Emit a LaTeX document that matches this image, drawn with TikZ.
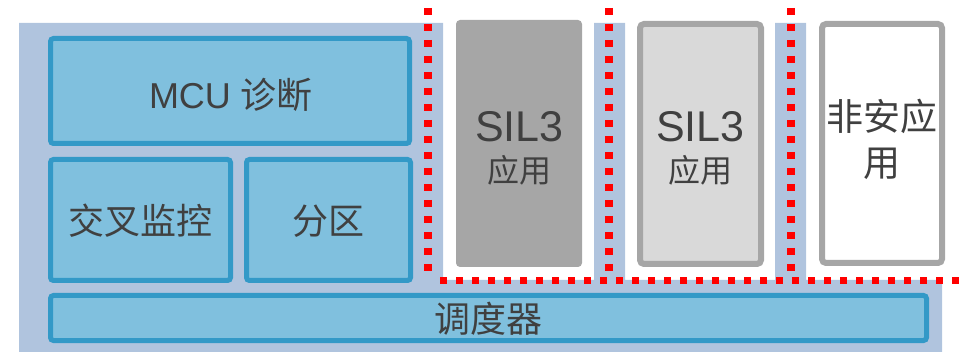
\documentclass[tikz,border=0pt]{standalone}
\usepackage{fontspec}
\setmainfont{Liberation Sans}
\newfontfamily\cjk{Noto Sans CJK SC}
\usetikzlibrary{calc}
\definecolor{bgblue}{HTML}{B0C4DE}
\definecolor{boxfill}{HTML}{80C0DE}
\definecolor{boxline}{HTML}{3399C7}
\definecolor{gdark}{HTML}{A6A6A6}
\definecolor{glight}{HTML}{D9D9D9}
\definecolor{txt}{HTML}{404040}
\definecolor{dotred}{HTML}{FF0000}
\tikzset{
  bluebox/.style={draw=boxline, fill=boxfill, line width=5pt, rounded corners=3pt, inner sep=0pt, rectangle},
  appbox/.style={draw=gdark, line width=6pt, rounded corners=4pt, inner sep=0pt, rectangle},
  lbl/.style={text=txt, inner sep=0pt, anchor=base},
  sep/.style={draw=dotred, line width=7.3pt, dash pattern=on 7.3pt off 8.7pt}
}
\begin{document}
\begin{tikzpicture}[x=1pt, y=-1pt]
\useasboundingbox (0,0) rectangle (968,352);
% background comb shape
\fill[bgblue] (19,23) -- (443,23) -- (443,280) -- (594,280) -- (594,23) -- (625,23) -- (625,280)
  -- (775,280) -- (775,23) -- (806,23) -- (806,280) -- (942,280) -- (942,352) -- (19,352) -- cycle;
% left block
\node[bluebox, minimum width=359pt, minimum height=105pt] (mcu) at (230,91) {};
\node[bluebox, minimum width=180pt, minimum height=121pt] (cross) at (140.5,220) {};
\node[bluebox, minimum width=164pt, minimum height=121pt] (part) at (328.5,220) {};
\node[bluebox, minimum width=876pt, minimum height=45pt] (sched) at (488.5,318) {};
% application partitions
\node[fill=gdark, rounded corners=4pt, inner sep=0pt, minimum width=126pt, minimum height=247pt] (sila) at (519,143.5) {};
\node[appbox, fill=glight, minimum width=121pt, minimum height=240pt] (silb) at (700.5,144) {};
\node[appbox, fill=white, minimum width=120pt, minimum height=239pt] (nonsafe) at (882,143.5) {};
% texts
\node[lbl, font=\fontsize{36}{40}\selectfont] (mcuT) at (231,109) {MCU {\cjk 诊断}};
\node[lbl, font=\cjk\fontsize{36}{40}\selectfont] (crossT) at (140.5,234.5) {交叉监控};
\node[lbl, font=\cjk\fontsize{36}{40}\selectfont] (partT) at (328.5,234.5) {分区};
\node[lbl, font=\cjk\fontsize{36}{40}\selectfont] (schedT) at (488.5,332.5) {调度器};
\node[lbl, font=\fontsize{43}{46}\selectfont] (silaA) at (519.5,142) {SIL3};
\node[lbl, font=\cjk\fontsize{32}{36}\selectfont] (silaB) at (519.5,183) {应用};
\node[lbl, font=\fontsize{43}{46}\selectfont] (silbA) at (700.5,142) {SIL3};
\node[lbl, font=\cjk\fontsize{32}{36}\selectfont] (silbB) at (700.5,183) {应用};
\node[lbl, font=\cjk\fontsize{37}{40}\selectfont] (nsA) at (881.5,130.5) {非安应};
\node[lbl, font=\cjk\fontsize{37}{40}\selectfont] (nsB) at (881.5,176.5) {用};
% red dotted separation lines
\coordinate (v1t) at (428,8);  \coordinate (v1b) at (428,272);
\coordinate (v2t) at (609,8);  \coordinate (v2b) at (609,272);
\coordinate (v3t) at (791,8);  \coordinate (v3b) at (791,272);
\coordinate (hl) at (440,280.5); \coordinate (hr) at (968,280.5);
\draw[sep] (v1t) -- (v1b);
\draw[sep] (v2t) -- (v2b);
\draw[sep] (v3t) -- (v3b);
\draw[sep] (hl) -- (hr);
\end{tikzpicture}
\end{document}
